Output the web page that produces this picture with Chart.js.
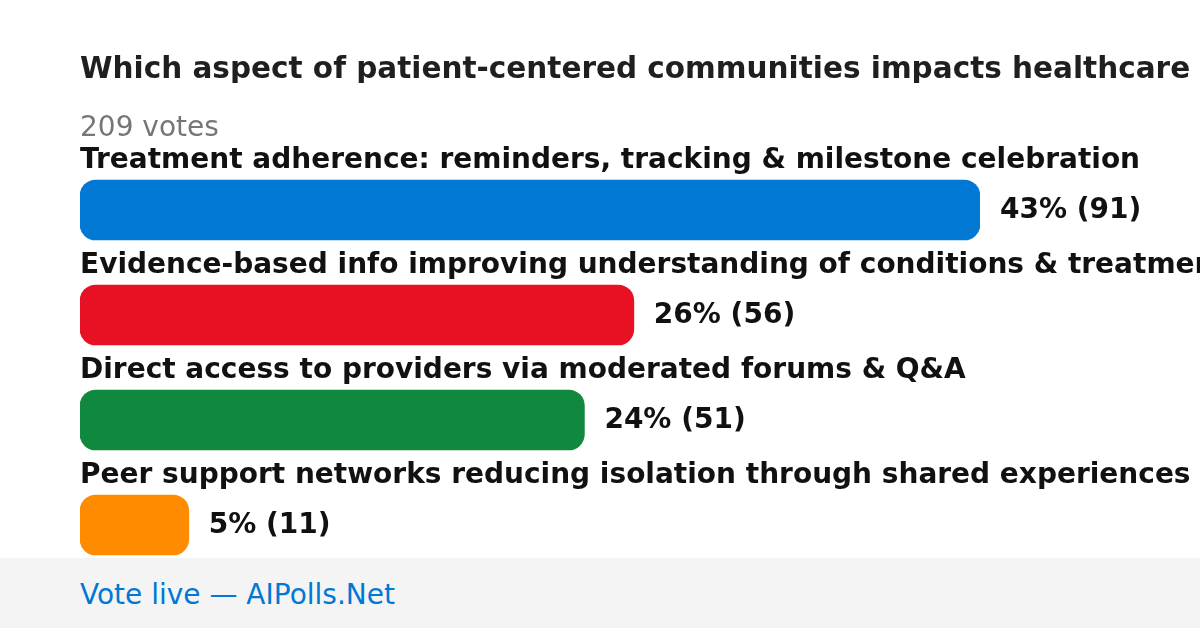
<!DOCTYPE html>
<html>
<head>
<meta charset="utf-8">
<script src="https://cdn.jsdelivr.net/npm/chart.js@4.4.1/dist/chart.umd.min.js"></script>
<style>
  html, body { margin: 0; padding: 0; background: #ffffff; }
  body { width: 1200px; height: 628px; position: relative; overflow: hidden; font-family: "DejaVu Sans", sans-serif; }
  #title { position: absolute; left: 80px; top: 53px; width: 1120px; white-space: nowrap; overflow: hidden;
           font-size: 29.5px; font-weight: bold; line-height: 30px; color: #1f1f1f; }
  #votes { position: absolute; left: 80px; top: 113px; font-size: 28px; line-height: 28px; color: #767676; }
  #footer { position: absolute; left: 0; top: 558px; width: 1200px; height: 70px; background: #f4f4f4; }
  #footer span { position: absolute; left: 80px; top: 23px; font-size: 28px; line-height: 28px; color: #0078d4; white-space: nowrap; }
  #wrap { position: absolute; left: 0; top: 0; width: 1200px; height: 628px; }
</style>
</head>
<body>
<div id="wrap"><canvas id="chart" width="1200" height="628"></canvas></div>
<div id="title">Which aspect of patient-centered communities impacts healthcare</div>
<div id="votes">209 votes</div>
<div id="footer"><span>Vote live — AIPolls.Net</span></div>
<script>
const categories = [
  "Treatment adherence: reminders, tracking & milestone celebration",
  "Evidence-based info improving understanding of conditions & treatments",
  "Direct access to providers via moderated forums & Q&A",
  "Peer support networks reducing isolation through shared experiences"
];
const votes = [91, 56, 51, 11];
const percents = [43, 26, 24, 5];
const colors = ["#0078d4", "#e81123", "#10893e", "#ff8c00"];

const labelPlugin = {
  id: 'pollLabels',
  afterDatasetsDraw(chart) {
    const ctx = chart.ctx;
    const meta = chart.getDatasetMeta(0);
    ctx.save();
    meta.data.forEach((bar, i) => {
      const left = chart.chartArea.left;
      ctx.fillStyle = '#111111';
      ctx.textBaseline = 'alphabetic';
      ctx.textAlign = 'left';
      ctx.font = 'bold 28px "DejaVu Sans"';
      ctx.fillText(categories[i], left, bar.y - 42);
      ctx.fillText(percents[i] + '% (' + votes[i] + ')', bar.x + 20, bar.y + 8);
    });
    ctx.restore();
  }
};

new Chart(document.getElementById('chart'), {
  type: 'bar',
  data: {
    labels: categories,
    datasets: [{
      data: votes,
      backgroundColor: colors,
      borderRadius: 16,
      borderSkipped: false,
      barThickness: 60
    }]
  },
  options: {
    indexAxis: 'y',
    responsive: false,
    animation: false,
    layout: { padding: { left: 80, right: 220, top: 157.5, bottom: 50.5 } },
    scales: {
      x: { display: false, min: 0, max: Math.max(...votes) },
      y: { display: false }
    },
    plugins: { legend: { display: false }, tooltip: { enabled: false } }
  },
  plugins: [labelPlugin]
});
</script>
</body>
</html>
